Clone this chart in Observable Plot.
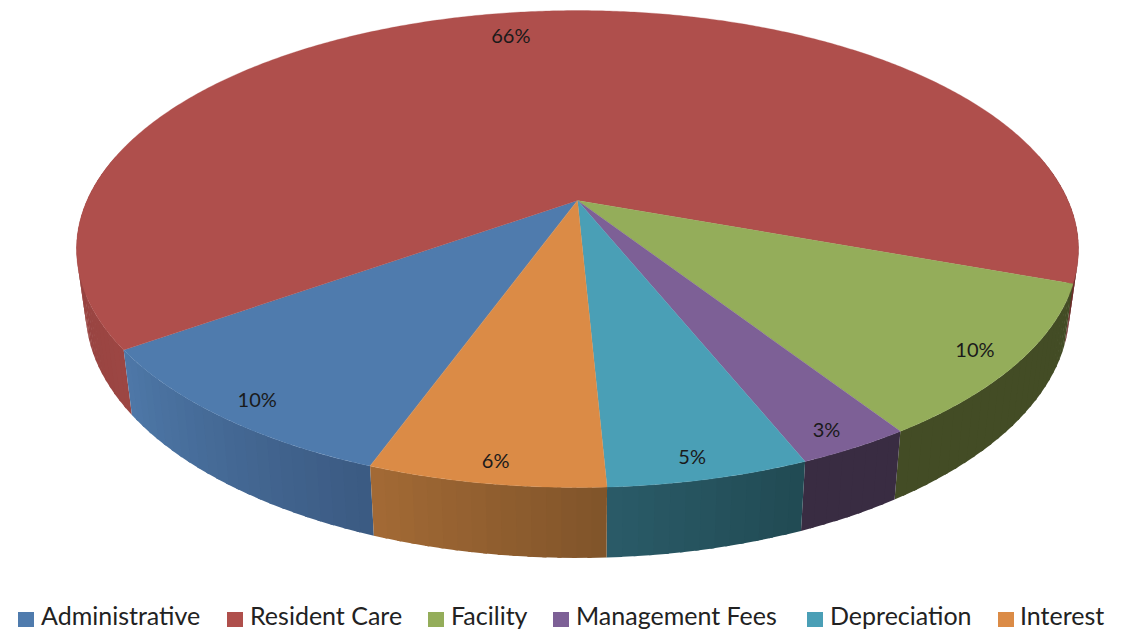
<!DOCTYPE html>
<html>
<head>
<meta charset="utf-8">
<script src="https://cdn.jsdelivr.net/npm/d3@7"></script>
<script src="https://cdn.jsdelivr.net/npm/@observablehq/plot@0.6"></script>
<style>
  html, body { margin: 0; padding: 0; background: #fff; }
  #chart { position: relative; width: 1126px; height: 630px; overflow: hidden; font-family: Lato, sans-serif; }
  #chart svg { display: block; position: absolute; left: 0; top: 0; }
  .leg { position: absolute; top: 600px; height: 30px; line-height: 30px; font-size: 25px; color: #222; white-space: nowrap; }
  .sw { position: absolute; top: 612px; width: 16px; height: 15px; }
</style>
</head>
<body>
<div id="chart"></div>
<script>
// Data
const categories = ["Administrative", "Resident Care", "Facility", "Management Fees", "Depreciation", "Interest"];
const shares = [9.65, 65.3, 10.3, 3.05, 5.38, 6.32];
const labels = ["10%", "66%", "10%", "3%", "5%", "6%"];

// Colours
const topColors = ["#4F7BAD", "#AF4F4C", "#94AD5A", "#7D6096", "#4A9FB6", "#DB8B46"];
const sideFrom  = ["#3B5A82", "#9C4643", "#434C25", "#392C42", "#214A53", "#80542A"];
const sideTo    = ["#4E78A8", "#6A2A28", "#434C25", "#392C42", "#2A5B68", "#A36A35"];

// Layout of the tilted pie
const W = 1126, H = 600;
const view = {cx: 577, cy: 200, a: 490.5, b: 228.6, k: 0.2034, start: 20};
const rim = {sx: 0.982, sy: 1.04, dy: 51};
const labelRadius = [0.928, 0.855, 0.92, 0.936, 0.935, 0.936];
const labelTurn = [-0.7, -3, 0.65, 0.85, 0.7, -0.3];
const legendSwatchX = [18, 227, 428, 553, 807, 997.5];
const legendTextX = [41, 250, 451, 576, 830, 1020];

const rad = d => d * Math.PI / 180;
function project(theta, r = 1) {
  const u = -Math.sin(rad(theta)) * r, v = -Math.cos(rad(theta)) * r;
  const w = 1 + view.k * v;
  return [view.cx + view.a * u / w, view.cy - view.b * v / w];
}
const lower = ([x, y]) => [view.cx + (x - view.cx) * rim.sx, y * rim.sy + rim.dy];

// Angular extents from the shares
const total = d3.sum(shares);
let acc = view.start;
const slices = shares.map((v, i) => {
  const t0 = acc, t1 = acc + v / total * 360;
  acc = t1;
  return {i, t0, t1};
});

// Side wall, as narrow shaded strips that overlap slightly, far slices first
const sideRows = [];
for (const i of [1, 0, 2, 3, 4, 5]) {
  const {t0, t1} = slices[i];
  const n = Math.max(2, Math.ceil((t1 - t0) / 1.5));
  const shade = d3.interpolateRgb(sideFrom[i], sideTo[i]);
  for (let s = 0; s < n; s++) {
    const a = t0 + (t1 - t0) * s / n;
    const b = Math.min(t1, t0 + (t1 - t0) * (s + 1) / n + 0.4);
    if (-Math.cos(rad((a + b) / 2)) > 0.2) continue;
    const color = d3.color(shade((s + 0.5) / n)).formatHex();
    const pts = [project(a), project(b), lower(project(b)), lower(project(a))];
    pts.forEach(([x, y]) => sideRows.push({id: i + "-" + s, x, y, color}));
  }
}

// Top face of every slice
const topRows = [];
for (const {i, t0, t1} of slices) {
  const id = categories[i], color = topColors[i];
  topRows.push({id, x: view.cx, y: view.cy, color});
  const n = Math.ceil((t1 - t0) / 0.5);
  for (let s = 0; s <= n; s++) {
    const [x, y] = project(t0 + (t1 - t0) * s / n);
    topRows.push({id, x, y, color});
  }
}

// Labels
const labelRows = slices.map(({i, t0, t1}) => {
  const [x, y] = project((t0 + t1) / 2 + labelTurn[i], labelRadius[i]);
  return {x, y, text: labels[i]};
});

const plot = Plot.plot({
  width: W, height: H,
  margin: 0,
  x: {domain: [0, W], range: [0, W], axis: null},
  y: {domain: [0, H], range: [0, H], axis: null},
  marks: [
    Plot.line(sideRows, {x: "x", y: "y", z: "id", fill: "color", stroke: "none", curve: "linear-closed"}),
    Plot.line(topRows, {x: "x", y: "y", z: "id", fill: "color", stroke: "color", strokeWidth: 0.3, curve: "linear-closed"}),
    Plot.text(labelRows, {x: "x", y: "y", text: "text", fontSize: 20, fontFamily: "Lato, sans-serif", fill: "#1a1a1a", textAnchor: "middle", lineAnchor: "middle"})
  ]
});

const chart = document.getElementById("chart");
chart.appendChild(plot);
categories.forEach((c, i) => {
  const sw = document.createElement("div");
  sw.className = "sw";
  sw.style.left = legendSwatchX[i] + "px";
  sw.style.background = topColors[i];
  chart.appendChild(sw);
  const t = document.createElement("div");
  t.className = "leg";
  t.style.left = legendTextX[i] + "px";
  t.textContent = c;
  chart.appendChild(t);
});
</script>
</body>
</html>
